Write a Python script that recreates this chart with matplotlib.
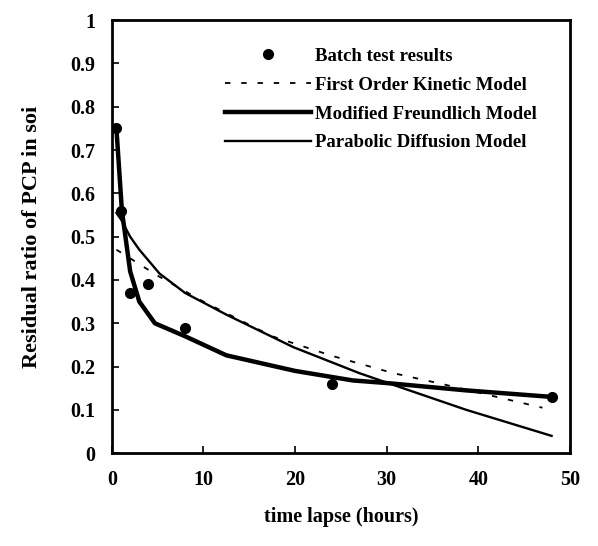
import matplotlib
matplotlib.use("Agg")
import matplotlib.pyplot as plt

plt.rcParams['font.family'] = ['Liberation Serif', 'DejaVu Serif']

# batch test results
t_batch = [0.5, 1, 2, 4, 8, 24, 48]
r_batch = [0.75, 0.56, 0.37, 0.39, 0.29, 0.16, 0.13]

# first order kinetic model
t_first = [0.5, 5, 10, 17.5, 24, 30.7, 36, 41, 47]
r_first = [0.47, 0.41, 0.35, 0.27, 0.225, 0.185, 0.16, 0.135, 0.105]

# modified freundlich model
t_freund = [0.5, 1.1, 2, 3, 4.7, 8, 12.5, 20, 26.3, 30, 38.7, 48]
r_freund = [0.75, 0.56, 0.42, 0.35, 0.30, 0.27, 0.226, 0.19, 0.168, 0.162, 0.145, 0.13]

# parabolic diffusion model
t_parab = [0.5, 1, 2, 3, 5.2, 8, 12.5, 19.8, 27, 30, 38.7, 48]
r_parab = [0.555, 0.54, 0.50, 0.47, 0.415, 0.37, 0.32, 0.245, 0.185, 0.163, 0.10, 0.04]

yticks = [0, 0.1, 0.2, 0.3, 0.4, 0.5, 0.6, 0.7, 0.8, 0.9, 1]
ylabels = ["0", "0.1", "0.2", "0.3", "0.4", "0.5", "0.6", "0.7", "0.8", "0.9", "1"]
xticks = [0, 10, 20, 30, 40, 50]

fig = plt.figure(figsize=(5.98, 5.46), dpi=100)
ax = fig.add_axes([0.187, 0.170, 0.766, 0.793])

ax.plot(t_batch, r_batch, 'o', color='black', markersize=7, label='Batch test results')
ax.plot(t_first, r_first, color='black', lw=1.3, linestyle=(0, (3, 6)),
        label='First Order Kinetic Model')
ax.plot(t_freund, r_freund, color='black', lw=3.2, label='Modified Freundlich Model')
ax.plot(t_parab, r_parab, color='black', lw=1.7, label='Parabolic Diffusion Model')

ax.set_xlim(0, 50)
ax.set_ylim(0, 1)
ax.set_xticks(xticks)
ax.set_yticks(yticks)
ax.set_yticklabels(ylabels)
ax.tick_params(direction='in', length=5, width=1.2, labelsize=14.5, pad=12)
for lab in ax.get_xticklabels() + ax.get_yticklabels():
    lab.set_fontweight('bold')
for s in ax.spines.values():
    s.set_linewidth(2)

ax.set_xlabel("time lapse (hours)", fontsize=14.5, fontweight='bold', labelpad=12)
ax.set_ylabel("Residual ratio of PCP in soi", fontsize=16, fontweight='bold', labelpad=20)

leg = ax.legend(loc='upper right', bbox_to_anchor=(0.965, 0.975), frameon=False,
                prop={'size': 13.5, 'weight': 'bold'}, handlelength=4.6,
                handletextpad=0.2, labelspacing=0.62)

fig.savefig("out.png", dpi=100)
